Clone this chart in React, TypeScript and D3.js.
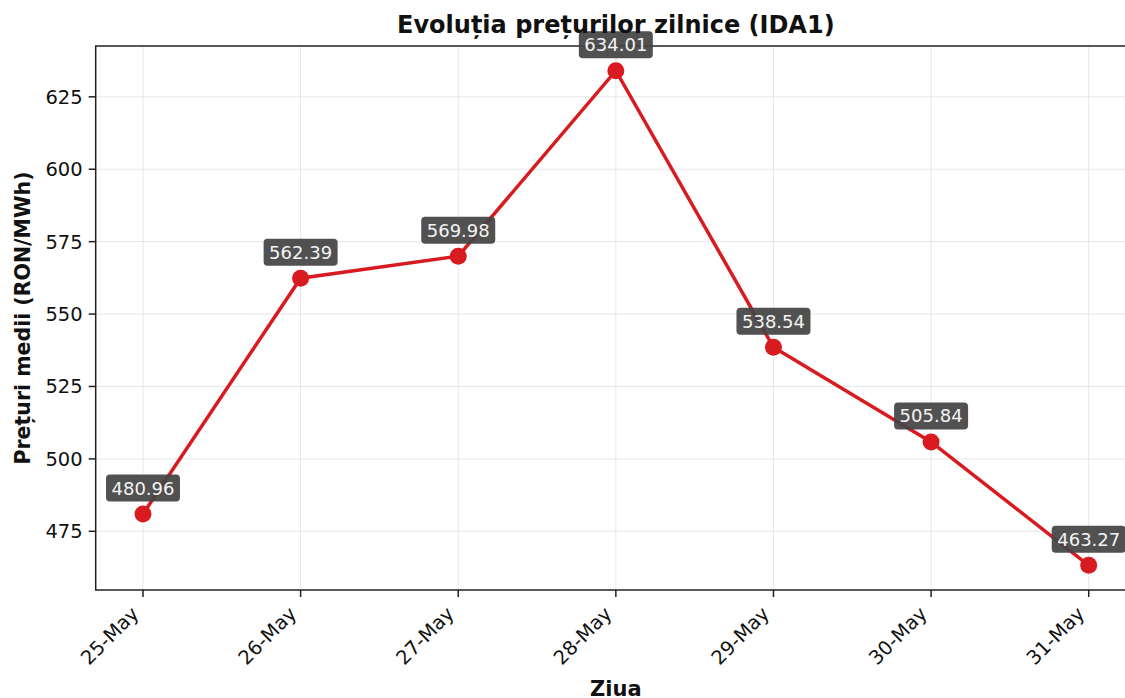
import { scaleLinear } from 'd3';

const width = 1125;
const height = 698;
const margin = { left: 95.7, right: 1136, top: 46, bottom: 590 };

const days = ['25-May', '26-May', '27-May', '28-May', '29-May', '30-May', '31-May'];
const prices = [480.96, 562.39, 569.98, 634.01, 538.54, 505.84, 463.27];
const yTicks = [475, 500, 525, 550, 575, 600, 625];

const font = 'DejaVu Sans, sans-serif';
const red = '#d81b20';

const App = () => {
  const lo = Math.min(...prices);
  const hi = Math.max(...prices);
  const pad = (hi - lo) * 0.05;
  const x = scaleLinear().domain([-0.3, days.length - 1 + 0.3]).range([margin.left, margin.right]);
  const y = scaleLinear().domain([lo - pad, hi + pad]).range([margin.bottom, margin.top]);
  const path = prices.map((p, i) => `${i ? 'L' : 'M'}${x(i)},${y(p)}`).join('');
  const cx = (margin.left + margin.right) / 2;

  return (
    <svg width={width} height={height} style={{ position: 'absolute', left: 0, top: 0 }} fontFamily={font}>
      <rect width={width} height={height} fill="white" />
      {yTicks.map(t => (
        <line key={t} x1={margin.left} x2={margin.right} y1={y(t)} y2={y(t)} stroke="#b0b0b0" strokeOpacity={0.3} />
      ))}
      {days.map((d, i) => (
        <line key={d} x1={x(i)} x2={x(i)} y1={margin.top} y2={margin.bottom} stroke="#b0b0b0" strokeOpacity={0.3} />
      ))}
      <rect x={margin.left} y={margin.top} width={margin.right - margin.left} height={margin.bottom - margin.top}
        fill="none" stroke="#222" strokeWidth={1.5} />
      {yTicks.map(t => (
        <g key={t}>
          <line x1={margin.left - 7} x2={margin.left} y1={y(t)} y2={y(t)} stroke="#222" strokeWidth={1.5} />
          <text x={margin.left - 13} y={y(t)} dy="0.36em" textAnchor="end" fontSize={19.5} fill="#111">{t}</text>
        </g>
      ))}
      {days.map((d, i) => (
        <g key={d}>
          <line x1={x(i)} x2={x(i)} y1={margin.bottom} y2={margin.bottom + 7} stroke="#222" strokeWidth={1.5} />
          <text transform={`translate(${x(i) - 3},${margin.bottom + 25}) rotate(-45)`} textAnchor="end"
            fontSize={19.5} fill="#111">{d}</text>
        </g>
      ))}
      <path d={path} fill="none" stroke={red} strokeWidth={3.5} />
      {prices.map((p, i) => (
        <circle key={i} cx={x(i)} cy={y(p)} r={8.5} fill={red} />
      ))}
      {prices.map((p, i) => (
        <g key={i} transform={`translate(${x(i)},${y(p) - 26})`}>
          <rect x={-37} y={-13.5} width={74} height={27} rx={4} fill="#444" fillOpacity={0.93} />
          <text textAnchor="middle" dy="0.36em" fontSize={18} fill="#f4f4f4">{p.toFixed(2)}</text>
        </g>
      ))}
      <text x={cx} y={33} textAnchor="middle" fontWeight="bold" fontSize={24} fill="#111">Evoluția prețurilor zilnice (IDA1)</text>
      <text transform={`translate(30,${(margin.top + margin.bottom) / 2}) rotate(-90)`} textAnchor="middle"
        fontWeight="bold" fontSize={20.5} fill="#111">Prețuri medii (RON/MWh)</text>
      <text x={cx} y={696} textAnchor="middle" fontWeight="bold" fontSize={21} fill="#111">Ziua</text>
    </svg>
  );
};

export default App;
